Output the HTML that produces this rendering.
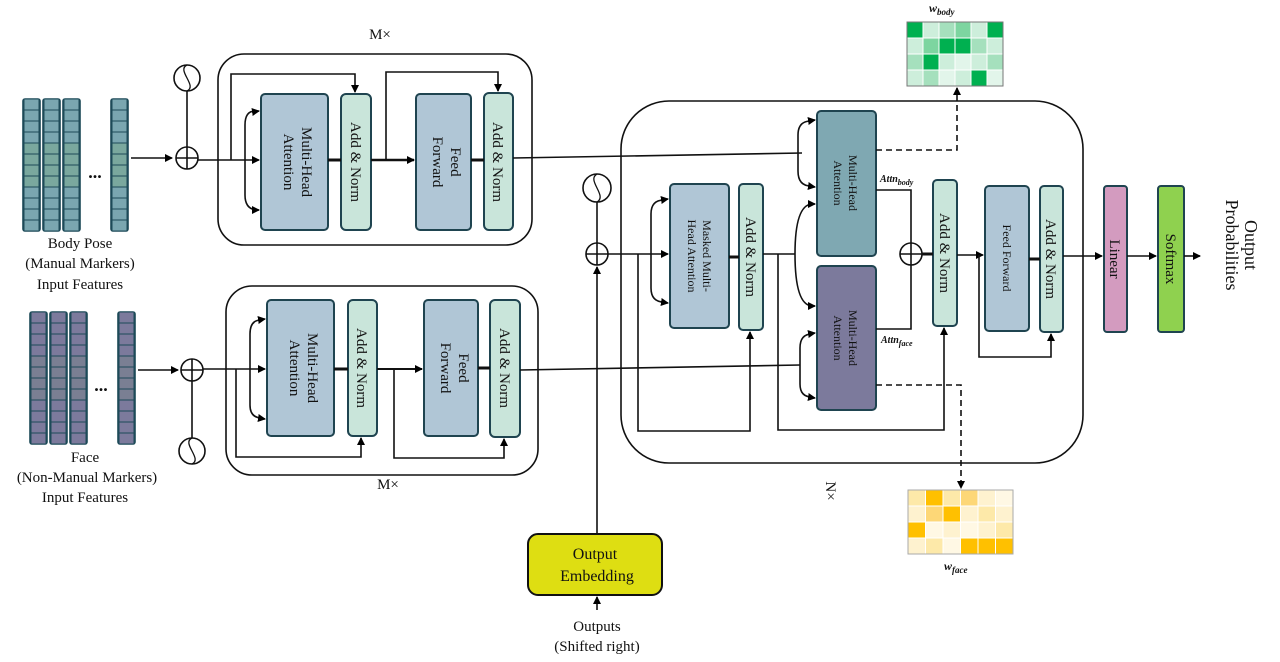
<!DOCTYPE html>
<html><head><meta charset="utf-8"><style>
html,body{margin:0;padding:0;background:#fff;width:1280px;height:662px;overflow:hidden}
svg{display:block}
text{font-family:"Liberation Serif",serif;fill:#111}
</style></head><body>
<svg id="s" width="1280" height="662" viewBox="0 0 1280 662" xmlns="http://www.w3.org/2000/svg">
<defs>
<marker id="a" markerWidth="8" markerHeight="8" refX="7" refY="4" orient="auto" markerUnits="userSpaceOnUse"><path d="M0,0 L8,4 L0,8 z" fill="#000"/></marker>
</defs>
<g id="feat"></g>
<g fill="none" stroke="#111" stroke-width="1.6">
<rect x="218" y="54" width="314" height="191" rx="26"/>
<rect x="226" y="286" width="312" height="189" rx="26"/>
<rect x="621" y="101" width="462" height="362" rx="48"/>
</g>
<g stroke="#1f4450" stroke-width="2">
<rect x="261" y="94" width="67" height="136" rx="4" fill="#b0c6d6"/>
<rect x="341" y="94" width="30" height="136" rx="5" fill="#c9e5da"/>
<rect x="416" y="94" width="55" height="136" rx="4" fill="#b0c6d6"/>
<rect x="484" y="93" width="29" height="137" rx="5" fill="#c9e5da"/>
<rect x="267" y="300" width="67" height="136" rx="4" fill="#b0c6d6"/>
<rect x="348" y="300" width="29" height="136" rx="5" fill="#c9e5da"/>
<rect x="424" y="300" width="54" height="136" rx="4" fill="#b0c6d6"/>
<rect x="490" y="300" width="30" height="137" rx="5" fill="#c9e5da"/>
<rect x="670" y="184" width="59" height="144" rx="4" fill="#b0c6d6"/>
<rect x="739" y="184" width="24" height="146" rx="4" fill="#c9e5da"/>
<rect x="817" y="111" width="59" height="145" rx="4" fill="#7fa8b2"/>
<rect x="817" y="266" width="59" height="144" rx="4" fill="#7c7a9c"/>
<rect x="933" y="180" width="24" height="146" rx="4" fill="#c9e5da"/>
<rect x="985" y="186" width="44" height="145" rx="4" fill="#b0c6d6"/>
<rect x="1040" y="186" width="23" height="146" rx="4" fill="#c9e5da"/>
<rect x="1104" y="186" width="23" height="146" rx="3" fill="#d39bbf"/>
<rect x="1158" y="186" width="26" height="146" rx="3" fill="#8fd14f"/>
</g>
<rect x="528" y="534" width="134" height="61" rx="10" fill="#dede12" stroke="#111" stroke-width="2"/>
<g fill="none" stroke="#111" stroke-width="1.6">
<line x1="131" y1="158" x2="172" y2="158" marker-end="url(#a)"/>
<circle cx="187" cy="158" r="11"/><line x1="176" y1="158" x2="198" y2="158"/><line x1="187" y1="147" x2="187" y2="169"/>
<circle cx="187" cy="78" r="13"/><line x1="187" y1="91" x2="187" y2="147"/>
<line x1="198" y1="160" x2="259" y2="160" marker-end="url(#a)"/>
<polyline points="231,160 231,74 355,74 355,92" marker-end="url(#a)"/>
<path d="M255,111 Q245,111 245,125 L245,195 Q245,210 258,210" /><path d="M252,112 l7,-1" marker-end="url(#a)"/><path d="M252,210 l7,0" marker-end="url(#a)"/>
<line x1="328" y1="160" x2="341" y2="160" stroke-width="3"/>
<line x1="371" y1="160" x2="414" y2="160" stroke-width="2.5" marker-end="url(#a)"/>
<polyline points="386,160 386,72 498,72 498,91" marker-end="url(#a)"/>
<line x1="471" y1="160" x2="484" y2="160" stroke-width="3"/>
<line x1="513" y1="158" x2="802" y2="153"/>
<line x1="138" y1="370" x2="178" y2="370" marker-end="url(#a)"/>
<circle cx="192" cy="370" r="11"/><line x1="181" y1="370" x2="203" y2="370"/><line x1="192" y1="359" x2="192" y2="381"/>
<circle cx="192" cy="451" r="13"/><line x1="192" y1="381" x2="192" y2="438"/>
<line x1="203" y1="369" x2="265" y2="369" marker-end="url(#a)"/>
<polyline points="236,369 236,457 361,457 361,438" marker-end="url(#a)"/>
<path d="M261,320 Q250,320 250,334 L250,405 Q250,418 262,418"/><path d="M258,320 l7,-1" marker-end="url(#a)"/><path d="M258,418 l7,1" marker-end="url(#a)"/>
<line x1="334" y1="369" x2="348" y2="369" stroke-width="3"/>
<line x1="377" y1="369" x2="422" y2="369" stroke-width="2" marker-end="url(#a)"/>
<polyline points="394,369 394,458 504,458 504,439" marker-end="url(#a)"/>
<line x1="478" y1="368" x2="490" y2="368" stroke-width="3"/>
<line x1="520" y1="370" x2="800" y2="365"/>
<circle cx="597" cy="188" r="14"/><line x1="597" y1="202" x2="597" y2="243"/>
<circle cx="597" cy="254" r="11"/><line x1="586" y1="254" x2="608" y2="254"/><line x1="597" y1="243" x2="597" y2="265"/>
<line x1="597" y1="533" x2="597" y2="267" marker-end="url(#a)"/>
<line x1="597" y1="610" x2="597" y2="597" marker-end="url(#a)"/>
<line x1="608" y1="254" x2="668" y2="254" marker-end="url(#a)"/>
<path d="M664,200 Q651,200 651,214 L651,288 Q651,302 664,302"/><path d="M661,200 l7,-1" marker-end="url(#a)"/><path d="M661,302 l7,1" marker-end="url(#a)"/>
<polyline points="638,254 638,431 750,431 750,332" marker-end="url(#a)"/>
<line x1="729" y1="257" x2="739" y2="257" stroke-width="3"/>
<line x1="763" y1="254" x2="795" y2="254"/>
<path d="M795,254 Q795,205 812,204" /><path d="M808,204 l7,0" marker-end="url(#a)"/>
<path d="M795,254 Q795,305 812,306" /><path d="M808,306 l7,0" marker-end="url(#a)"/>
<path d="M811,121 Q798,121 798,135 L798,171 Q798,186 811,186"/><path d="M808,121 l7,-1" marker-end="url(#a)"/><path d="M808,186 l7,1" marker-end="url(#a)"/>
<path d="M812,334 Q800,334 800,348 L800,384 Q800,397 812,397"/><path d="M808,334 l7,-1" marker-end="url(#a)"/><path d="M808,397 l7,1" marker-end="url(#a)"/>
<polyline points="778,254 778,430 944,430 944,328" marker-end="url(#a)"/>
<polyline points="876,190 911,190 911,243"/>
<polyline points="876,329 911,329 911,265"/>
<circle cx="911" cy="254" r="11"/><line x1="900" y1="254" x2="922" y2="254"/><line x1="911" y1="243" x2="911" y2="265"/>
<line x1="922" y1="254" x2="933" y2="254" stroke-width="3"/>
<line x1="957" y1="255" x2="983" y2="255" marker-end="url(#a)"/>
<polyline points="979,255 979,357 1051,357 1051,334" marker-end="url(#a)"/>
<line x1="1029" y1="259" x2="1040" y2="259" stroke-width="3"/>
<line x1="1063" y1="256" x2="1102" y2="256" marker-end="url(#a)"/>
<line x1="1127" y1="256" x2="1156" y2="256" marker-end="url(#a)"/>
<line x1="1184" y1="256" x2="1200" y2="256" marker-end="url(#a)"/>
<g stroke-dasharray="6,4">
<polyline points="876,150 957,150 957,88" marker-end="url(#a)"/>
<polyline points="876,385 961,385 961,488" marker-end="url(#a)"/>
</g>
</g>
<g id="hm"></g>
<g fill="none" stroke="#111" stroke-width="1.3">
<path d="M187,65 C176,70 198,86 187,91"/>
<path d="M192,438 C181,443 203,459 192,464"/>
<path d="M597,174 C586,180 608,196 597,202"/>
</g>
<g font-size="15" text-anchor="middle">
<text x="380" y="39">M×</text>
<text x="388" y="489">M×</text>
<text x="95" y="178" font-size="18" font-weight="bold">...</text>
<text x="101" y="391" font-size="18" font-weight="bold">...</text>
<text x="80" y="248">Body Pose</text>
<text x="80" y="268">(Manual Markers)</text>
<text x="80" y="289">Input Features</text>
<text x="85" y="462">Face</text>
<text x="87" y="482">(Non-Manual Markers)</text>
<text x="85" y="502">Input Features</text>
<text x="595" y="559" font-size="16">Output</text>
<text x="597" y="581" font-size="16">Embedding</text>
<text x="597" y="631">Outputs</text>
<text x="597" y="651">(Shifted right)</text>
<text transform="translate(826,491) rotate(90)" font-size="15">N×</text>
<g font-size="15">
<text transform="translate(294,162) rotate(90)"><tspan x="0" dy="-8">Multi-Head</tspan><tspan x="0" dy="18">Attention</tspan></text>
<text transform="translate(356,162) rotate(90)" dy="5">Add &amp; Norm</text>
<text transform="translate(443,162) rotate(90)"><tspan x="0" dy="-8">Feed</tspan><tspan x="0" dy="18">Forward</tspan></text>
<text transform="translate(498,162) rotate(90)" dy="5">Add &amp; Norm</text>
<text transform="translate(300,368) rotate(90)"><tspan x="0" dy="-8">Multi-Head</tspan><tspan x="0" dy="18">Attention</tspan></text>
<text transform="translate(362,368) rotate(90)" dy="5">Add &amp; Norm</text>
<text transform="translate(451,368) rotate(90)"><tspan x="0" dy="-8">Feed</tspan><tspan x="0" dy="18">Forward</tspan></text>
<text transform="translate(505,368) rotate(90)" dy="5">Add &amp; Norm</text>
<text transform="translate(751,257) rotate(90)" dy="5">Add &amp; Norm</text>
<text transform="translate(945,253) rotate(90)" dy="5">Add &amp; Norm</text>
<text transform="translate(1051,259) rotate(90)" dy="5">Add &amp; Norm</text>
<text transform="translate(1115,259) rotate(90)" dy="5">Linear</text>
<text transform="translate(1171,259) rotate(90)" dy="5">Softmax</text>
<text transform="translate(1242,245) rotate(90)" font-size="18"><tspan x="0" dy="-3">Output</tspan><tspan x="0" dy="19">Probabilities</tspan></text>
</g>
<g font-size="12">
<text transform="translate(699,256) rotate(90)"><tspan x="0" dy="-4">Masked Multi-</tspan><tspan x="0" dy="15">Head Attention</tspan></text>
<text transform="translate(846,183) rotate(90)"><tspan x="0" dy="-3">Multi-Head</tspan><tspan x="0" dy="15">Attention</tspan></text>
<text transform="translate(846,338) rotate(90)"><tspan x="0" dy="-3">Multi-Head</tspan><tspan x="0" dy="15">Attention</tspan></text>
<text transform="translate(1007,258) rotate(90)" dy="4">Feed Forward</text>
</g>
<g font-size="10" font-style="italic" font-weight="bold" text-anchor="start">
<text x="880" y="182">Attn<tspan font-size="8" dy="3">body</tspan></text>
<text x="881" y="343">Attn<tspan font-size="8" dy="3">face</tspan></text>
<text x="929" y="12" font-size="12">w<tspan font-size="9" dy="3">body</tspan></text>
<text x="944" y="570" font-size="12">w<tspan font-size="9" dy="3">face</tspan></text>
</g>
</g>
</svg>
<script>
(function(){
var NS="http://www.w3.org/2000/svg";
function r(g,x,y,w,h,f,s,sw){var e=document.createElementNS(NS,"rect");e.setAttribute("x",x);e.setAttribute("y",y);e.setAttribute("width",w);e.setAttribute("height",h);e.setAttribute("fill",f);if(s){e.setAttribute("stroke",s);e.setAttribute("stroke-width",sw||1);}if(sw==1.6)e.setAttribute("rx",2);g.appendChild(e);}
var F=document.getElementById("feat");
function col(x,y,c,c2){r(F,x,y,17,132,c,"#1d4a58",1.6);for(var i=0;i<12;i++){r(F,x+1,y+i*11,15,11,(i>=4&&i<8)?c2:c,"#1d4a58",1);}}
[23,43,63,111].forEach(function(x){col(x,99,"#7aa6b0","#7aa89e");});
[30,50,70,118].forEach(function(x){col(x,312,"#7c7a9c","#7a7f93");});
var H=document.getElementById("hm");
var g={d:"#00b050",m:"#7dd5a0",n:"#a5e0bd",l:"#cdeedb",v:"#e2f5ea"};
var b=["dlnmld","lmddnl","ndlvln","lnvldv"];
var y={d:"#ffc000",m:"#fdd777",l:"#fde9a9",v:"#fef2cf",w:"#fff8e4"};
var f=["ldlmvw","vmdvlv","dwvwvl","vlwddd"];
for(var i=0;i<4;i++)for(var j=0;j<6;j++){r(H,907+j*16,22+i*16,16,16,g[b[i][j]],"#fff",1);r(H,908+j*17.5,490+i*16,17.5,16,y[f[i][j]],"#fff",1);}
r(H,907,22,96,64,"none","#777",1);r(H,908,490,105,64,"none","#aaa",1);
})();
</script>
</body></html>
